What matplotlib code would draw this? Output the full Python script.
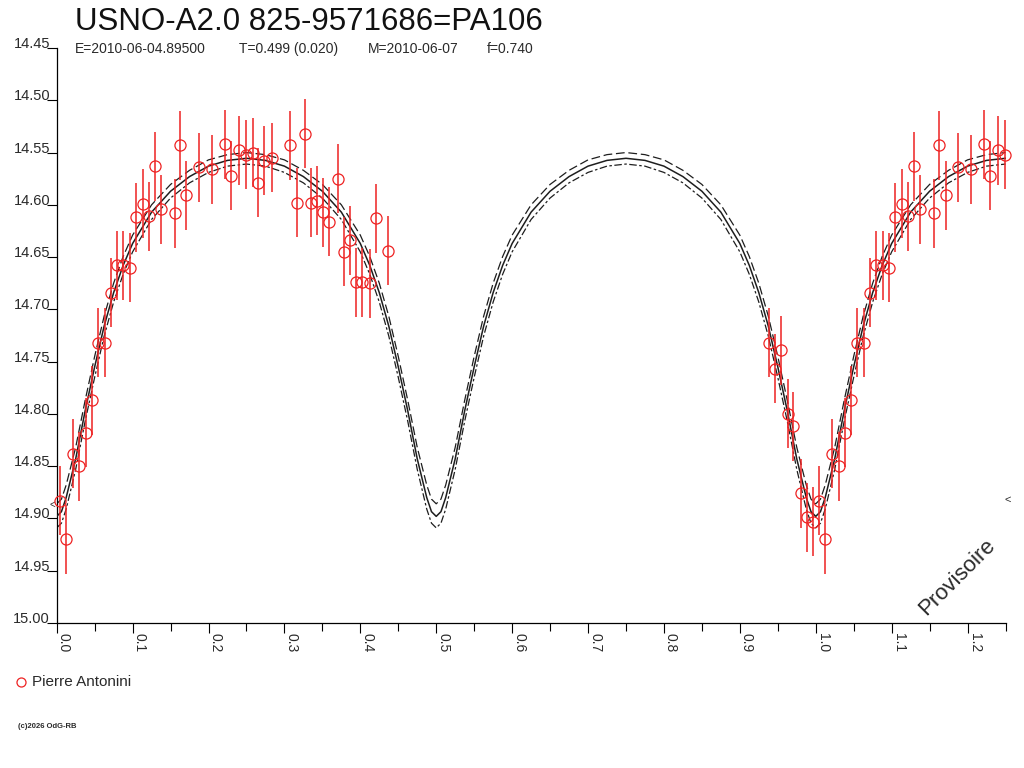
import numpy as np
import matplotlib
matplotlib.use("Agg")
import matplotlib.pyplot as plt
from matplotlib.lines import Line2D
from matplotlib.ticker import MultipleLocator, FixedLocator, FormatStrFormatter

# ==========================================================
# TEXTS
# ==========================================================
TITLE = "USNO-A2.0 825-9571686=PA106"
SUBTITLE_PARTS = ["E=2010-06-04.89500", "T=0.499 (0.020)", "M=2010-06-07", "f=0.740"]
OBSERVER = "Pierre Antonini"
COPYRIGHT = "(c)2026 OdG-RB"
STAMP = "Provisoire"

# ==========================================================
# OBSERVATIONS (phase, magnitude, error)
# ==========================================================
obs_phase = [
    0.004, 0.012, 0.022, 0.030, 0.039, 0.046, 0.054, 0.064, 0.072, 0.079,
    0.088, 0.097, 0.105, 0.114, 0.122, 0.130, 0.138, 0.156, 0.163, 0.171,
    0.188, 0.205, 0.222, 0.229, 0.240, 0.249, 0.258, 0.265, 0.273, 0.284,
    0.308, 0.317, 0.327, 0.335, 0.343, 0.351, 0.359, 0.370, 0.378, 0.386,
    0.394, 0.402, 0.413, 0.421, 0.437,
    0.939, 0.946, 0.954, 0.963, 0.970, 0.980, 0.988, 0.997,
]
obs_mag = [
    14.883, 14.920, 14.838, 14.850, 14.818, 14.787, 14.732, 14.732, 14.684, 14.658,
    14.658, 14.660, 14.612, 14.599, 14.611, 14.563, 14.604, 14.608, 14.543, 14.591,
    14.564, 14.566, 14.542, 14.572, 14.548, 14.552, 14.550, 14.579, 14.558, 14.555,
    14.543, 14.598, 14.532, 14.598, 14.596, 14.607, 14.616, 14.575, 14.645, 14.634,
    14.674, 14.674, 14.675, 14.613, 14.644,
    14.732, 14.757, 14.739, 14.800, 14.812, 14.876, 14.899, 14.903,
]
obs_err = [0.033] * len(obs_mag)

# ==========================================================
# FITTED LIGHT CURVE (solid) AND ENVELOPE (dashed)
# ==========================================================
curve_phase = [
    0.0, 0.00625, 0.0125, 0.025, 0.0375, 0.05, 0.0625, 0.075, 0.0875, 0.1, 0.125, 0.15, 0.175, 0.2, 0.225, 0.25,
    0.275, 0.3, 0.325, 0.35, 0.375, 0.4, 0.4125, 0.425, 0.4375, 0.45, 0.4625, 0.475, 0.4875, 0.49375, 0.5,
    0.50625, 0.5125, 0.525, 0.5375, 0.55, 0.5625, 0.575, 0.5875, 0.6, 0.625, 0.65, 0.675, 0.7, 0.725, 0.75,
    0.775, 0.8, 0.825, 0.85, 0.875, 0.9, 0.9125, 0.925, 0.9375, 0.95, 0.9625, 0.975, 0.9875, 0.99375, 1.0,
    1.00625, 1.0125, 1.025, 1.0375, 1.05, 1.0625, 1.075, 1.0875, 1.1, 1.125, 1.15, 1.175, 1.2, 1.225, 1.25,
]
curve_mid = [
    14.898, 14.8935, 14.880, 14.843, 14.797, 14.755, 14.716, 14.684, 14.658, 14.637, 14.607, 14.587, 14.573, 14.563, 14.5575, 14.5555,
    14.5575, 14.563, 14.573, 14.587, 14.607, 14.637, 14.658, 14.684, 14.716, 14.755, 14.797, 14.843, 14.880, 14.8935, 14.898,
    14.8935, 14.880, 14.843, 14.797, 14.755, 14.716, 14.684, 14.658, 14.637, 14.607, 14.587, 14.573, 14.563, 14.5575, 14.5555,
    14.5575, 14.563, 14.573, 14.587, 14.607, 14.637, 14.658, 14.684, 14.716, 14.755, 14.797, 14.843, 14.880, 14.8935, 14.898,
    14.8935, 14.880, 14.843, 14.797, 14.755, 14.716, 14.684, 14.658, 14.637, 14.607, 14.587, 14.573, 14.563, 14.5575, 14.5555,
]
curve_high = [
    14.886, 14.8815, 14.868, 14.832, 14.787, 14.745, 14.7065, 14.675, 14.6495, 14.629, 14.600, 14.5805, 14.567, 14.557, 14.552, 14.550,
    14.552, 14.557, 14.567, 14.5805, 14.600, 14.629, 14.6495, 14.675, 14.7065, 14.745, 14.787, 14.832, 14.868, 14.8815, 14.886,
    14.8815, 14.868, 14.832, 14.787, 14.745, 14.7065, 14.675, 14.6495, 14.629, 14.600, 14.5805, 14.567, 14.557, 14.552, 14.550,
    14.552, 14.557, 14.567, 14.5805, 14.600, 14.629, 14.6495, 14.675, 14.7065, 14.745, 14.787, 14.832, 14.868, 14.8815, 14.886,
    14.8815, 14.868, 14.832, 14.787, 14.745, 14.7065, 14.675, 14.6495, 14.629, 14.600, 14.5805, 14.567, 14.557, 14.552, 14.550,
]
curve_low = [
    14.909, 14.9045, 14.891, 14.853, 14.807, 14.765, 14.7255, 14.693, 14.6665, 14.645, 14.614, 14.5935, 14.579, 14.569, 14.563, 14.561,
    14.563, 14.569, 14.579, 14.5935, 14.614, 14.645, 14.6665, 14.693, 14.7255, 14.765, 14.807, 14.853, 14.891, 14.9045, 14.909,
    14.9045, 14.891, 14.853, 14.807, 14.765, 14.7255, 14.693, 14.6665, 14.645, 14.614, 14.5935, 14.579, 14.569, 14.563, 14.561,
    14.563, 14.569, 14.579, 14.5935, 14.614, 14.645, 14.6665, 14.693, 14.7255, 14.765, 14.807, 14.853, 14.891, 14.9045, 14.909,
    14.9045, 14.891, 14.853, 14.807, 14.765, 14.7255, 14.693, 14.6665, 14.645, 14.614, 14.5935, 14.579, 14.569, 14.563, 14.561,
]

y_ticks = [14.45, 14.50, 14.55, 14.60, 14.65, 14.70, 14.75, 14.80, 14.85, 14.90, 14.95, 15.00]

# ==========================================================
# STYLE
# ==========================================================
plt.rcParams.update({
    "font.family": ["Liberation Sans", "DejaVu Sans"],
    "axes.linewidth": 0.9,
})

COL_RED = "#ee2222"
COL_CURVE = "#1e1e1e"
COL_TEXT = "#2a2a2a"

W, H = 1024, 768
fig = plt.figure(figsize=(W / 100, H / 100), dpi=100)
fig.patch.set_facecolor("white")

x0, x1 = 56.7, 1005.5
y0, y1 = 48.0, 623.0
ax = fig.add_axes([x0 / W, 1 - y1 / H, (x1 - x0) / W, (y1 - y0) / H])

# fitted curves
ax.plot(curve_phase, curve_high, color=COL_CURVE, lw=0.9, ls=(0, (7, 3)), zorder=2)
ax.plot(curve_phase, curve_low, color=COL_CURVE, lw=0.9, ls=(0, (6, 2, 2, 2)), zorder=2)
ax.plot(curve_phase, curve_mid, color=COL_CURVE, lw=1.1, zorder=3)

# observations, repeated one cycle later up to phase 1.25
ph = np.array(obs_phase)
mg = np.array(obs_mag)
er = np.array(obs_err)
rep = ph + 1.0 <= 1.25
px = np.concatenate([ph, ph[rep] + 1.0])
py = np.concatenate([mg, mg[rep]])
pe = np.concatenate([er, er[rep]])

ax.vlines(px, py - pe, py + pe, color=COL_RED, lw=1.1, zorder=4)
ax.plot(px, py, "o", mfc="none", mec=COL_RED, ms=8, mew=0.9, zorder=5, clip_on=False)

ax.set_xlim(0.0, 1.25)
ax.set_ylim(15.00, 14.45)

for side in ["top", "right"]:
    ax.spines[side].set_visible(False)

ax.xaxis.set_major_locator(MultipleLocator(0.1))
ax.xaxis.set_minor_locator(MultipleLocator(0.05))
ax.xaxis.set_major_formatter(FormatStrFormatter("%.1f"))
ax.yaxis.set_major_locator(FixedLocator(y_ticks))
ax.yaxis.set_major_formatter(FormatStrFormatter("%.2f"))

ax.tick_params(axis="x", which="major", length=7.2, width=0.8, pad=0,
               labelsize=10, labelcolor=COL_TEXT)
ax.tick_params(axis="x", which="minor", length=5.8, width=0.8)
ax.tick_params(axis="y", which="major", length=7.2, width=0.8, pad=-2.4,
               labelsize=10.5, labelcolor=COL_TEXT)

for lab in ax.get_xticklabels():
    lab.set_rotation(-90)
    lab.set_ha("left")
    lab.set_va("top")
for lab in ax.get_yticklabels():
    lab.set_va("baseline")

# small markers at the curve ends
ax.text(-0.006, 14.887, "<", fontsize=7, color=COL_TEXT, ha="center", va="center", clip_on=False)
ax.text(1.2535, 14.882, "<", fontsize=8, color=COL_TEXT, ha="center", va="center", clip_on=False)

# ==========================================================
# TEXTS AROUND THE PLOT
# ==========================================================
fig.text(75 / W, 1 - 30 / H, TITLE, fontsize=22.5, color="#111111", va="baseline", ha="left")

sub_x = [75, 239, 368, 487]
for xx, part in zip(sub_x, SUBTITLE_PARTS):
    fig.text(xx / W, 1 - 53 / H, part, fontsize=10, color=COL_TEXT, va="baseline", ha="left")

fig.text(957 / W, 1 - 577 / H, STAMP, fontsize=16, color=COL_TEXT, rotation=45,
         rotation_mode="anchor", ha="center", va="center")

fig.add_artist(Line2D([21 / W], [1 - 682 / H], marker="o", ms=6.5, mfc="none",
                      mec=COL_RED, mew=0.9, transform=fig.transFigure))
fig.text(32 / W, 1 - 682 / H, OBSERVER, fontsize=11, color=COL_TEXT, va="center", ha="left")

fig.text(18 / W, 1 - 726 / H, COPYRIGHT, fontsize=5.5, weight="bold", color=COL_TEXT,
         va="center", ha="left")

fig.savefig("out.png", dpi=100, facecolor="white")
